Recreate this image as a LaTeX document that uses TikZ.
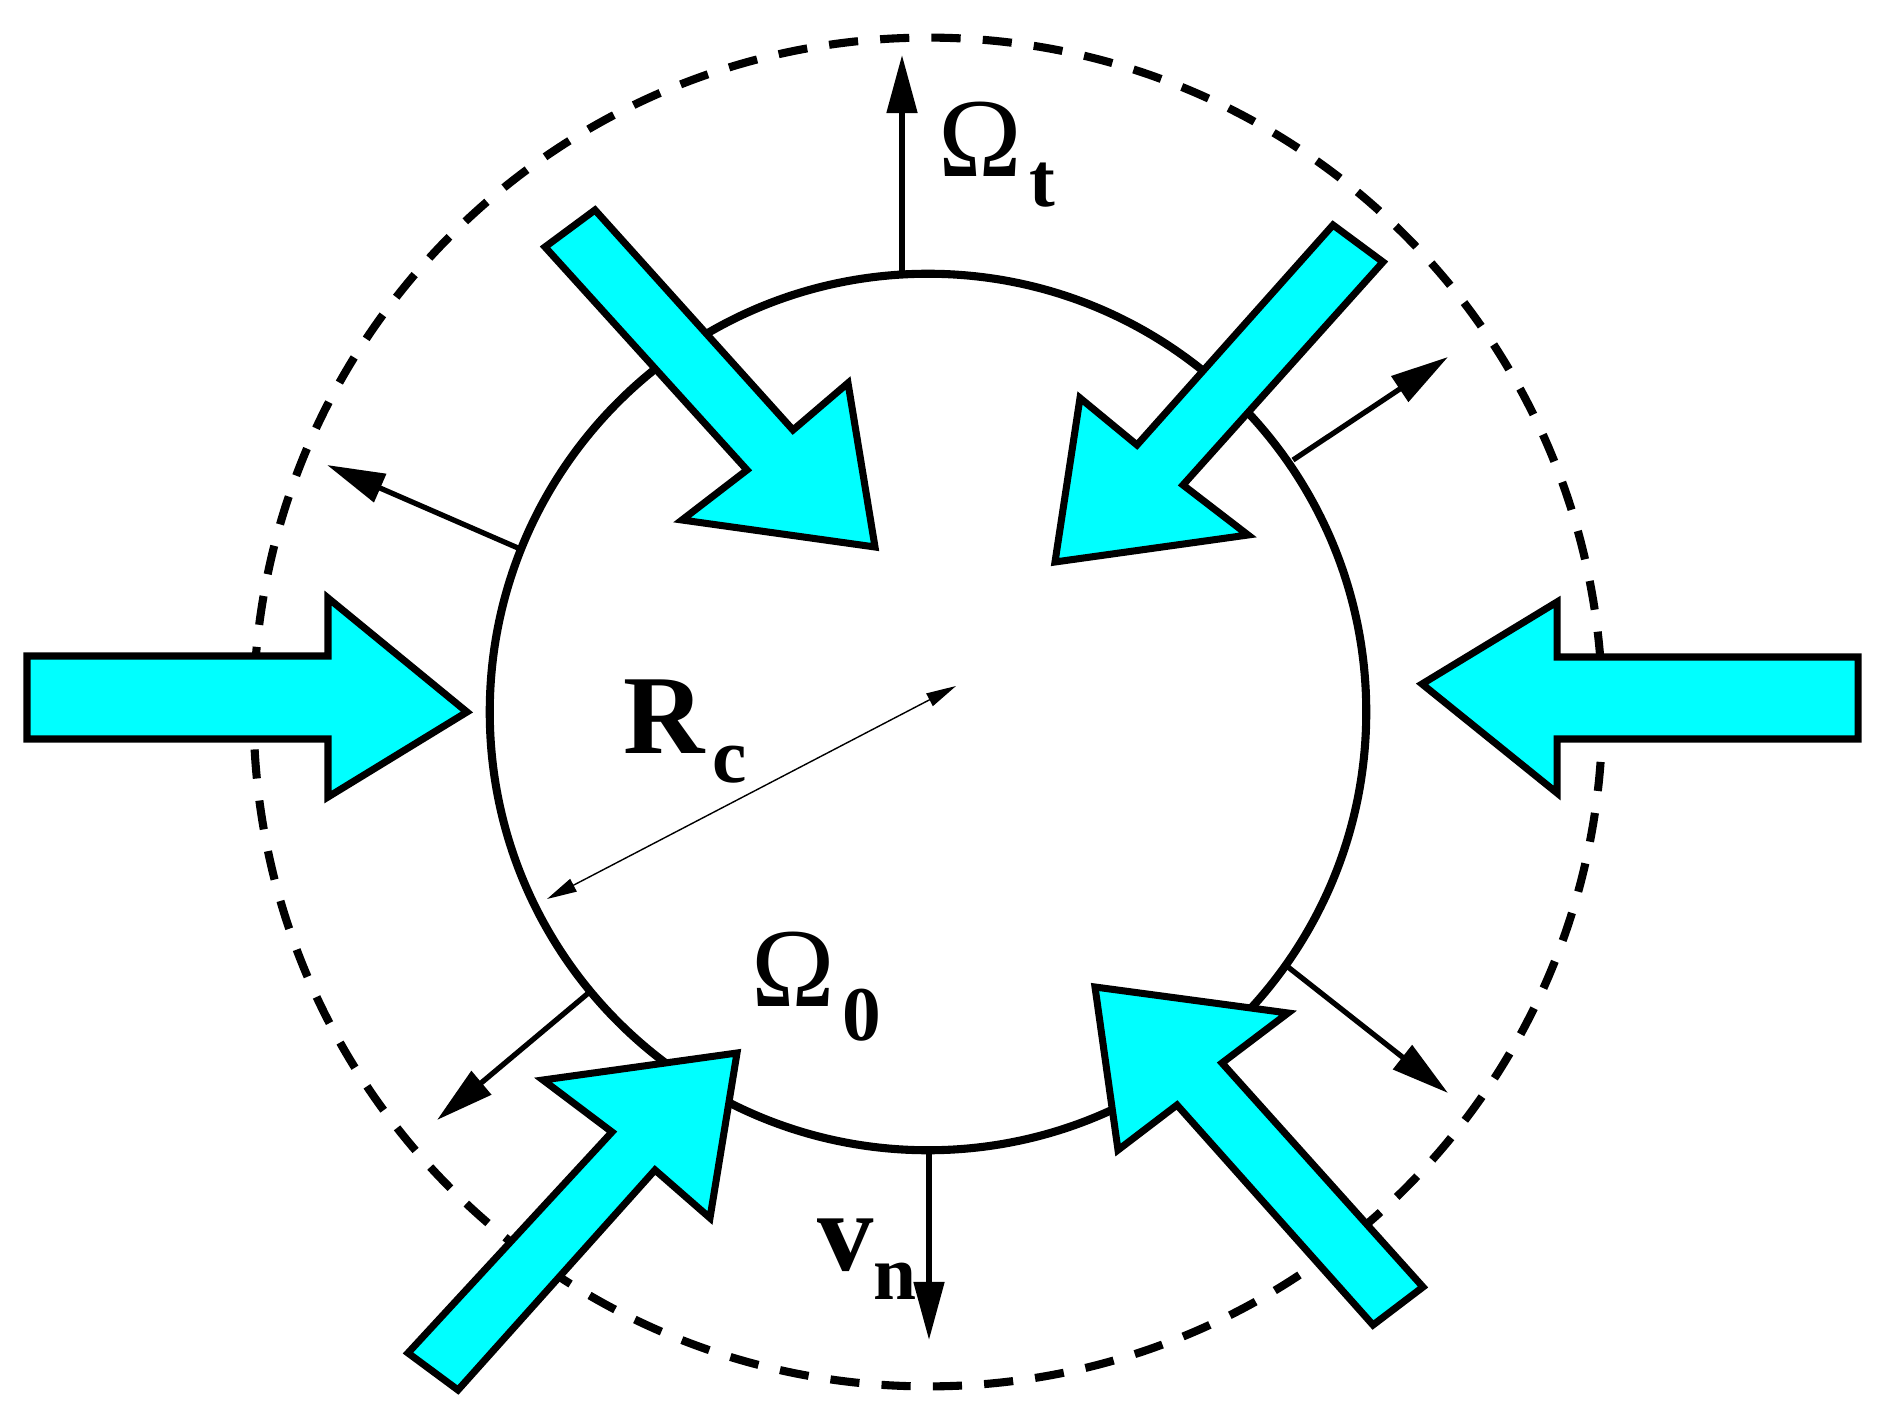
\documentclass[tikz,border=0pt]{standalone}
\usepackage{fontspec}
\setmainfont{Liberation Serif}
\usetikzlibrary{arrows.meta}
\definecolor{aqua}{RGB}{0,255,255}
\newcommand{\lblsub}[2][8.5pt]{\raisebox{-#1}{\fontsize{22}{22}\selectfont\bfseries #2}}
\newcommand{\bigOm}{{\mdseries Ω}}
\begin{document}
\begin{tikzpicture}[x=0.01cm,y=-0.01cm,
  flow/.style={fill=aqua,draw=black,line width=2pt,line join=miter},
  ring/.style={draw=black,line width=2.3pt},
  front/.style={draw=black,line width=2.3pt,dash pattern=on 8.3pt off 6.3pt},
  vel/.style={line width=1.5pt,-{Triangle[length=16.5pt,width=8.5pt]}},
  rcline/.style={line width=0.4pt,{Triangle[length=8.5pt,width=4pt]}-{Triangle[length=8.5pt,width=4pt]}},
  lbl/.style={inner sep=0pt,anchor=base west,font=\bfseries\fontsize{32}{32}\selectfont}]
\useasboundingbox (0,0) rectangle (1897,1419);
\coordinate (c) at (928,712);
% circles
\draw[front] (c) circle[radius=6.74cm];
\draw[ring] (c) circle[radius=4.38cm];
% velocity arrows
\coordinate (nw0) at (518,548); \coordinate (nw1) at (327,465);
\coordinate (ne0) at (1293,460); \coordinate (ne1) at (1448,357);
\coordinate (sw0) at (592,990); \coordinate (sw1) at (437,1120);
\coordinate (se0) at (1288,967); \coordinate (se1) at (1448,1093);
\coordinate (top0) at (902,275); \coordinate (top1) at (902,55);
\coordinate (bot0) at (929,1150); \coordinate (bot1) at (929,1340);
\coordinate (r0) at (547,899); \coordinate (r1) at (956,686);
\draw[vel] (nw0) -- (nw1);
\draw[vel] (ne0) -- (ne1);
\draw[vel] (sw0) -- (sw1);
\draw[vel] (se0) -- (se1);
\draw[vel] (top0) -- (top1);
\draw[vel] (bot0) -- (bot1);
\draw[rcline] (r0) -- (r1);
% cyan block arrows
\draw[flow] (27,656) -- (328,656) -- (328,598) -- (467,712) -- (328,797) -- (328,739) -- (27,739) -- cycle;
\draw[flow] (1858,657) -- (1557,657) -- (1557,602) -- (1422,684) -- (1557,793) -- (1557,739) -- (1858,739) -- cycle;
\draw[flow] (545,247) -- (595,210) -- (793,430) -- (848,383) -- (875,547) -- (682,520) -- (747,470) -- cycle;
\draw[flow] (1333,225) -- (1383,262) -- (1183,485) -- (1248,535) -- (1055,562) -- (1080,398) -- (1137,445) -- cycle;
\draw[flow] (408,1353) -- (612,1132) -- (543,1080) -- (737,1053) -- (710,1218) -- (655,1170) -- (458,1390) -- cycle;
\draw[flow] (1423,1287) -- (1222,1063) -- (1288,1013) -- (1095,987) -- (1118,1150) -- (1177,1105) -- (1373,1325) -- cycle;
% labels
\node[lbl] (Ot) at (938,177) {\bigOm\kern2pt\lblsub{t}};
\node[lbl] (Rc) at (623,753) {R\kern2pt\lblsub{c}};
\node[lbl] (O0) at (751,1006) {\bigOm\kern2pt\lblsub[9.7pt]{0}};
\node[lbl] (vn) at (817,1270) {v\kern0pt\lblsub{n}};
\end{tikzpicture}
\end{document}
